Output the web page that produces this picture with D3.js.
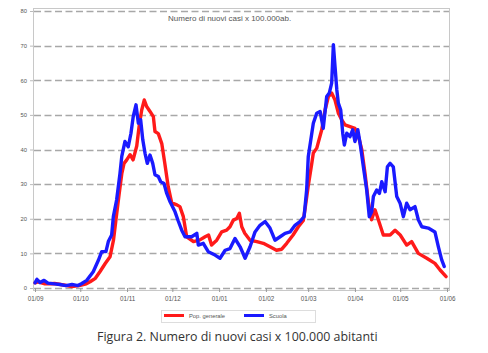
<!DOCTYPE html>
<html><head><meta charset="utf-8">
<script src="https://cdn.jsdelivr.net/npm/d3@7"></script>
<style>body{margin:0;background:#fff;} svg{display:block;}</style>
</head><body>
<svg id="c" width="488" height="353"></svg>
<script>
// Data: days since 01/09/2020 and values (new cases per 100,000 inhabitants)
const popDays = [0,2,6.6,13,20,24.5,30,34,36.5,40,43,46.4,49.7,52,54,55.7,57.5,59,60.8,63,65,67.4,69,70.7,72.4,74,76.2,78.4,79.5,81.7,84,86,88.3,90.6,94,96,98.3,100.5,105,109.3,112.7,115,117,120.4,123.7,127,129.2,131.4,133.7,135.4,137,139,142.5,147,151.3,155.7,160,163.5,166.8,171,174.5,177.8,179,181,183.4,184.4,186.7,190,192.2,194.4,196.6,198.8,201,203.2,205.4,208.7,212,214.2,216.5,218.7,221,223,225.3,227.5,230.8,235.3,238.6,242,246.3,249.6,254,259.6,265,268.4,272.4];
const popValues = [1.5,1.8,1.2,1.3,0.8,0.4,0.8,1.2,1.8,2.8,4.7,7.0,9,13.8,21,27,33,36,37,38.5,37,41,46.7,51.4,54.3,52.4,51,49.5,45.2,44.6,41.7,36,29.2,24.6,24,23.5,20.6,14.8,13.4,13.9,14.8,15.3,12.4,13.8,16.2,16.7,17.7,19.6,20.1,21.6,17.7,15.8,13.8,13.4,12.9,11.9,10.9,11.2,12.9,15.3,17.7,19.5,23,29.3,36,39,40.4,45.7,51.4,55.3,56.3,54.3,50.5,48.6,47.1,46.6,46.1,44,40,33,24.5,19.7,22.6,19.7,15.3,15.3,16.7,15.3,12.4,13.4,10,8.6,7.1,5.2,3.3];
const scuolaDays = [0,1.3,3.3,6,8.6,13,16.5,20.5,24.5,28.5,31,34.3,38.6,42,44.2,47,48.6,50.8,51.9,54.1,56.3,57.5,59.6,61.8,63.6,65.1,66.9,68.5,70,71.4,72.9,74.4,76.2,78,79.5,81.7,83.3,85.5,87.3,89.5,92.8,94.8,97.2,99.4,103.8,107.2,108.2,111.5,114.8,119.3,122.6,126,129.2,132.5,135.9,139.2,142.5,145.8,149.1,152.4,155.7,159,162.4,165.7,169,172.3,175.6,178.3,180,181.1,184.4,186.7,188.9,191,193.3,195,196.6,197.7,198.8,200,201,202.6,203.9,205,206.6,208.7,210.5,212,213.9,215.4,217.6,219.8,221.5,223.1,224.2,226.4,228.2,229.8,232,233.5,235.3,237.4,239.7,241.9,244.1,246.3,248.5,251.8,254,256.3,260.6,265,267.3,269.5,271.2];
const scuolaValues = [1.5,2.5,1.6,2.2,1.4,1.2,1.0,0.7,1.0,0.7,1.3,2.2,4.7,8,10.5,10.5,13.4,15.3,20.6,25.4,33,38,42.3,40.8,44.7,49.5,52.9,47.6,48.6,42.8,38.9,36,38.4,36,32.7,32.2,30.7,30.2,27.3,24.9,22,19.5,16.7,14.8,14.8,15.8,12.4,12.9,10.5,9.5,8.6,10.9,11.4,14.3,11.9,8.6,11.9,16.2,18.1,19.2,17.3,13.8,14.8,15.8,16.2,18.1,19.2,20.6,28.3,38,47.6,50.5,51,46.1,55.3,56.3,59.2,70.3,64,57.2,53.4,51.4,44.7,41.3,44.7,43.7,45.7,42.3,45.7,41.8,35,28.3,20.6,22,26.4,28.3,27.3,30.7,27.8,35,36,35,26.4,24.5,20.6,24.5,22.6,23.5,19.7,17.7,17.3,16.2,11.9,8.1,6.2];
const xTickLabels = ["01/09","01/10","01/11","01/12","01/01","01/02","01/03","01/04","01/05","01/06"];
const yTicks = [0,10,20,30,40,50,60,70,80];
const seriesNames = ["Pop. generale","Scuola"];
const titleText = "Numero di nuovi casi x 100.000ab.";
const captionText = "Figura 2. Numero di nuovi casi x 100.000 abitanti";

const start = new Date(2020, 8, 1);
const end = new Date(2021, 5, 1);
const tickDates = d3.range(10).map(i => new Date(2020, 8 + i, 1));

const svg = d3.select("#c");
const x = d3.scaleTime().domain([start, end]).range([35, 447]);
const y = d3.scaleLinear().domain([0, 80]).range([288, 11]);

// frame
svg.append("rect").attr("x", 33.5).attr("y", 8.5).attr("width", 416).attr("height", 282)
  .attr("fill", "none").attr("stroke", "#c8c8c8").attr("stroke-width", 1);

// grid
svg.append("g").selectAll("line").data(yTicks).join("line")
  .attr("x1", 34).attr("x2", 449).attr("y1", d => Math.round(y(d)) + 0.5).attr("y2", d => Math.round(y(d)) + 0.5)
  .attr("stroke", "#a8a8a8").attr("stroke-width", 1.3).attr("stroke-dasharray", "7,3.5");

// y axis labels
const yAxis = d3.axisLeft(y).tickValues(yTicks).tickSize(3).tickPadding(3);
const gy = svg.append("g").attr("transform", "translate(33,0)").call(yAxis);
gy.select(".domain").remove();
gy.selectAll("line").attr("stroke", "#bbb");
gy.selectAll("text").attr("font-family", "Liberation Sans, Arial, sans-serif").attr("font-size", 5.8).attr("fill", "#555");

// x axis
const xAxis = d3.axisBottom(x).tickValues(tickDates).tickFormat((d, i) => xTickLabels[i]).tickSize(4).tickPadding(5);
const gx = svg.append("g").attr("transform", "translate(0,288)").call(xAxis);
gx.select(".domain").remove();
gx.selectAll("line").attr("stroke", "#999");
gx.selectAll("text").attr("font-family", "Liberation Sans, Arial, sans-serif").attr("font-size", 6.3).attr("fill", "#555");

// lines
const line = d3.line().x(d => x(d3.timeHour.offset(start, Math.round(d[0] * 24)))).y(d => y(d[1])).curve(d3.curveLinear);
const popData = popDays.map((d, i) => [d, popValues[i]]);
const scuolaData = scuolaDays.map((d, i) => [d, scuolaValues[i]]);
svg.append("path").datum(popData).attr("d", line).attr("fill", "none").attr("stroke", "#ff1a1a")
  .attr("stroke-width", 3.4).attr("stroke-linejoin", "round").attr("stroke-linecap", "round");
svg.append("path").datum(scuolaData).attr("d", line).attr("fill", "none").attr("stroke", "#1a1aff")
  .attr("stroke-width", 3.4).attr("stroke-linejoin", "round").attr("stroke-linecap", "round");

// title
svg.append("text").attr("x", 168).attr("y", 21).text(titleText)
  .attr("font-family", "Liberation Sans, Arial, sans-serif").attr("font-size", 8).attr("fill", "#555");

// legend
const lg = svg.append("g");
lg.append("rect").attr("x", 161.5).attr("y", 310.5).attr("width", 154).attr("height", 12)
  .attr("fill", "#fff").attr("stroke", "#ddd");
const colors = ["#ff1a1a", "#1a1aff"];
const lx = [164, 244];
seriesNames.forEach((n, i) => {
  lg.append("line").attr("x1", lx[i]).attr("x2", lx[i] + 20).attr("y1", 315.5).attr("y2", 315.5)
    .attr("stroke", colors[i]).attr("stroke-width", 3);
  lg.append("text").attr("x", lx[i] + 25).attr("y", 317.5).text(n)
    .attr("font-family", "Liberation Sans, Arial, sans-serif").attr("font-size", 5.8).attr("fill", "#555");
});

// caption
svg.append("text").attr("x", 97).attr("y", 341).text(captionText)
  .attr("font-family", "Open Sans, sans-serif").attr("font-size", 12.4).attr("fill", "#333");
</script>
</body></html>
